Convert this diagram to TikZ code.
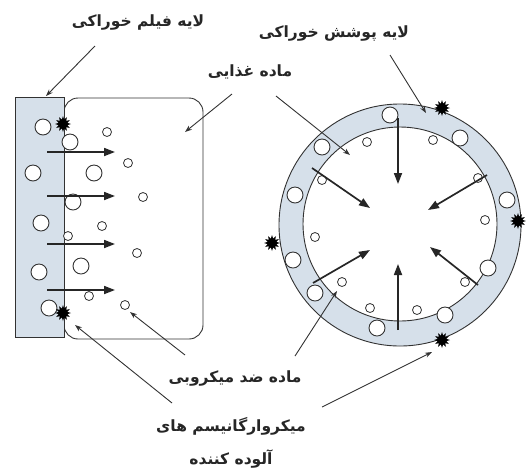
\documentclass[tikz,border=0pt]{standalone}
\usepackage{fontspec}
\newfontfamily\farsi[Script=Arabic]{DejaVu Sans}
\TeXXeTstate=1
\usepackage{tikz}
\usetikzlibrary{arrows.meta,shapes.geometric}
\definecolor{coatblue}{RGB}{214,224,234}
\definecolor{inkgray}{RGB}{50,50,50}

\begin{document}
\begin{tikzpicture}[x=1pt, y=-1pt, font=\farsi\bfseries\fontsize{15.5}{18}\selectfont,
      lbl/.style={inner sep=1pt, text=black!85},
      wall/.style={draw=inkgray, line width=0.9pt, inner sep=0pt},
      bub/.style={circle, draw=inkgray, fill=white, line width=0.9pt,
                  minimum size=16pt, inner sep=0pt},
      dot/.style={circle, draw=inkgray, fill=white, line width=0.8pt,
                  minimum size=9pt, inner sep=0pt},
      microbe/.style={star, star points=12, star point ratio=1.8,
                      fill=black, minimum size=16pt, inner sep=0pt},
      flow/.style={-{Triangle[length=11pt,width=8pt]}, line width=1.7pt, black!85},
      lead/.style={-{Stealth[length=7pt,width=5pt]}, line width=0.9pt, inkgray}]
    \useasboundingbox (0,0) rectangle (526,475);
    % left: film on food
    \node[wall, rounded corners=14pt, minimum width=139pt, minimum height=241pt]
      (food) at (133.5,218.5) {};
    \node[wall, fill=coatblue, minimum width=49pt, minimum height=240pt]
      (film) at (39.5,217) {};
    % right: coated food
    \node[wall, circle, fill=coatblue, minimum size=242pt] (coat) at (400,225) {};
    \node[wall, circle, fill=white, minimum size=194pt] (core) at (400,224) {};
    % antimicrobial agent
    \foreach \p [count=\i] in {(43,127),(33,173),(41,223),(39,272),(49,308),
        (70,142),(94,173),(73,202),(81,266),(390,115),(460,138),(322,147),
        (295,195),(507,200),(293,260),(488,268),(315,293),(445,315),(377,328)}
      \node[bub] (b\i) at \p {};
    \foreach \p [count=\i] in {(107,132),(128,163),(143,197),(102,226),(68,236),
        (137,253),(89,296),(125,305),(367,142),(433,140),(322,180),(478,178),
        (485,220),(315,237),(342,282),(465,282),(370,308),(417,310)}
      \node[dot] (d\i) at \p {};
    % diffusion
    \foreach \y [count=\i] in {152,196,244,290} {
      \coordinate (s\i) at (47,\y);
      \coordinate (e\i) at (115,\y);
      \draw[flow] (s\i) -- (e\i);
    }
    \coordinate (r1) at (398,118);  \coordinate (q1) at (398,184);
    \coordinate (r2) at (398,330);  \coordinate (q2) at (398,264);
    \coordinate (r3) at (312,168);  \coordinate (q3) at (370,208);
    \coordinate (r4) at (487,175);  \coordinate (q4) at (428,210);
    \coordinate (r5) at (313,283);  \coordinate (q5) at (370,250);
    \coordinate (r6) at (478,285);  \coordinate (q6) at (430,247);
    \foreach \i in {1,...,6}
      \draw[flow] (r\i) -- (q\i);
    % microorganisms
    \foreach \p [count=\i] in {(63,124),(63,313),(442,108),(518,221),(272,243),(442,340)}
      \node[microbe] (m\i) at \p {};
    % labels
    \node[lbl] (filmlab) at (138,22) {\beginR لایه فیلم خوراکی\endR};
    \node[lbl] (coatlab) at (334,33) {\beginR لایه پوشش خوراکی\endR};
    \node[lbl] (foodlab) at (250,72) {\beginR ماده غذایی\endR};
    \node[lbl] (antilab) at (235,378) {\beginR ماده ضد میکروبی\endR};
    \node[lbl, align=center] (microlab) at (231,443)
      {\beginR میکروارگانیسم های\endR\\[13pt]\beginR آلوده کننده\endR};
    \coordinate (t1) at (95,46);   \coordinate (u1) at (46,96);
    \coordinate (t2) at (232,94);  \coordinate (u2) at (185,132);
    \coordinate (t3) at (276,96);  \coordinate (u3) at (350,155);
    \coordinate (t4) at (390,55);  \coordinate (u4) at (426,113);
    \coordinate (t5) at (185,355); \coordinate (u5) at (130,312);
    \coordinate (t6) at (295,356); \coordinate (u6) at (337,291);
    \coordinate (t7) at (172,403); \coordinate (u7) at (75,325);
    \coordinate (t8) at (322,407); \coordinate (u8) at (432,352);
    \foreach \i in {1,...,8}
      \draw[lead] (t\i) -- (u\i);
  \end{tikzpicture}
\end{document}
